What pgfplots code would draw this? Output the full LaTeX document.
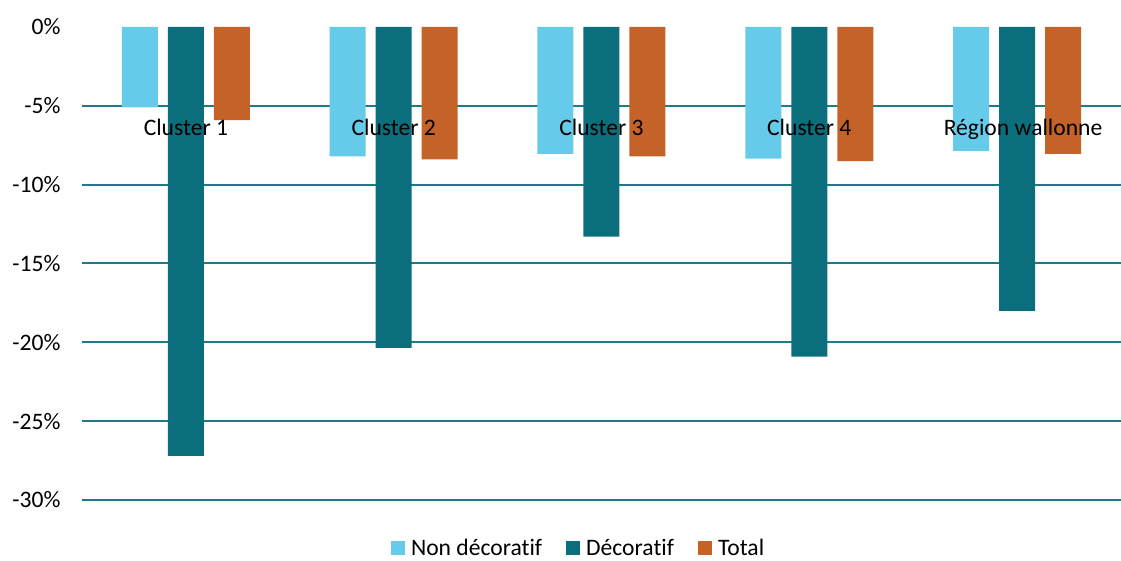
\documentclass[border=0pt]{standalone}
\usepackage{pgfplots}
\pgfplotsset{compat=1.18}
\usepackage{pgfplotstable}
\usepackage{fontspec}
\setmainfont{Carlito}[Ligatures={NoCommon}]
\definecolor{lblue}{HTML}{66CBEA}
\definecolor{dteal}{HTML}{0A6E7C}
\definecolor{orng}{HTML}{C56227}
\definecolor{gridc}{HTML}{1F7A88}
\newcommand\ff{\fontsize{23.6pt}{28pt}\selectfont}
\tikzset{lbl/.style={font=\ff, text height=15pt, text depth=5pt, inner sep=0pt}}
\pgfplotstableread{
x non deco total
0 -5.1 -27.2 -5.9
1 -8.2 -20.35 -8.4
2 -8.05 -13.3 -8.2
3 -8.35 -20.9 -8.5
4 -7.85 -18.0 -8.05
}\datatable
\begin{document}
\begin{tikzpicture}
\path[use as bounding box] (0,0) rectangle (1121pt,561pt);
\begin{axis}[
  at={(82pt,61pt)}, anchor=south west,
  scale only axis, width=1039pt, height=473pt,
  ymin=-30, ymax=0, xmin=-0.5, xmax=4.5,
  ybar=10pt, bar width=36pt,
  axis line style={draw=none},
  major tick length=0pt,
  xtick=\empty,
  ytick={-30,-25,-20,-15,-10,-5,0},
  yticklabels={-30\%,-25\%,-20\%,-15\%,-10\%,-5\%,0\%},
  extra y ticks={-30,-25,-20,-15,-10,-5},
  extra y tick labels={},
  extra y tick style={grid=major, major grid style={draw=gridc, line width=2pt}},
  yticklabel style={font=\ff, anchor=east, xshift=-18pt},
  legend style={at={(0.478,-0.1078)}, anchor=center, yshift=3pt, draw=none, font=\ff,
    inner sep=0pt, outer sep=0pt,
    legend columns=3,
    /tikz/every odd column/.append style={column sep=4pt},
    /tikz/every even column/.append style={column sep=22pt}},
  legend image code/.code={\fill[#1] (0pt,-7pt) rectangle (14pt,7pt);},
  clip=false,
]
\addplot[fill=lblue, draw=none] table[x=x,y=non]{\datatable};
\addplot[fill=dteal, draw=none] table[x=x,y=deco]{\datatable};
\addplot[fill=orng, draw=none] table[x=x,y=total]{\datatable};
\legend{Non décoratif, Décoratif, Total}
\node[lbl] at (axis cs:0,-6.55) {Cluster 1};
\node[lbl] at (axis cs:1,-6.55) {Cluster 2};
\node[lbl] at (axis cs:2,-6.55) {Cluster 3};
\node[lbl] at (axis cs:3,-6.55) {Cluster 4};
\node[lbl, xshift=6pt] at (axis cs:4,-6.55) {Région wallonne};
\end{axis}
\end{tikzpicture}
\end{document}
